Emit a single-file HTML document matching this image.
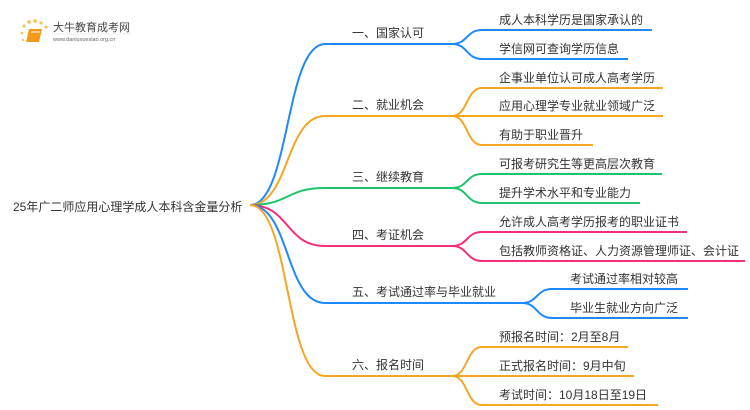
<!DOCTYPE html>
<html><head><meta charset="utf-8"><style>
html,body{margin:0;padding:0;background:#fff;}
svg{display:block;}
text{font-family:"Liberation Sans","Noto Sans CJK SC",sans-serif;fill:#333;}
</style></head><body>
<svg width="750" height="410" viewBox="0 0 750 410" xmlns="http://www.w3.org/2000/svg">
<g>
<circle cx="24" cy="26" r="1.5" fill="#f7c04a"/><circle cx="29" cy="22" r="1.8" fill="#f7c04a"/><circle cx="35" cy="21" r="1.8" fill="#f7c04a"/><circle cx="41" cy="23" r="1.6" fill="#f7c04a"/><circle cx="46" cy="27" r="1.5" fill="#f7c04a"/><circle cx="22" cy="33" r="1.3" fill="#f7c04a"/><circle cx="23" cy="40" r="1.1" fill="#f7c04a"/>
<path d="M29 29 L42 29 L39 42 L26 42 Z" fill="#f29a1c"/>
<path d="M31 32 L40 32" stroke="#fff" stroke-width="1"/>
<text x="53" y="31" font-size="11" style="fill:#444">大牛教育成考网</text>
<line x1="53" y1="34" x2="132" y2="34" stroke="#ddd" stroke-width="0.6"/>
<text x="53" y="41" font-size="5.5" style="fill:#666">www.daniuxuexiao.org.cn</text>
</g>
<g fill="none" stroke-width="2">
<path d="M250 205 C290 205 285 44 325 44 L455 44" stroke="#1e88ff"/>
<path d="M250 205 C290 205 285 116 325 116 L455 116" stroke="#f5a623"/>
<path d="M250 205 C290 205 285 188 325 188 L455 188" stroke="#1ec46d"/>
<path d="M250 205 C290 205 285 246 325 246 L455 246" stroke="#f52d7a"/>
<path d="M250 205 C290 205 285 303 325 303 L525 303" stroke="#1e88ff"/>
<path d="M250 205 C290 205 285 376 325 376 L455 376" stroke="#f5a623"/>
<g stroke="#1e88ff"><path d="M452 44 C468 44 466 30 482 30 L652 30"/><path d="M452 44 C468 44 466 59 482 59 L628 59"/></g>
<g stroke="#f5a623"><path d="M452 116 C468 116 466 88 482 88 L663 88"/><path d="M452 116 L663 116"/><path d="M452 116 C468 116 466 145 482 145 L593 145"/></g>
<g stroke="#1ec46d"><path d="M452 188 C468 188 466 174 482 174 L662 174"/><path d="M452 188 C468 188 466 203 482 203 L640 203"/></g>
<g stroke="#f52d7a"><path d="M452 246 C468 246 466 232 482 232 L687 232"/><path d="M452 246 C468 246 466 261 482 261 L745 261"/></g>
<g stroke="#1e88ff"><path d="M522 303 C538 303 536 289 552 289 L688 289"/><path d="M522 303 C538 303 536 318 552 318 L688 318"/></g>
<g stroke="#f5a623"><path d="M452 376 C468 376 466 347 482 347 L628 347"/><path d="M452 376 L634 376"/><path d="M452 376 C468 376 466 405 482 405 L658 405"/></g>
</g>
<text x="13" y="211" font-size="12">25年广二师应用心理学成人本科含金量分析</text>
<g font-size="12">
<text x="352" y="37">一、国家认可</text>
<text x="352" y="109">二、就业机会</text>
<text x="352" y="181">三、继续教育</text>
<text x="352" y="239">四、考证机会</text>
<text x="352" y="296">五、考试通过率与毕业就业</text>
<text x="352" y="369">六、报名时间</text>
</g>
<g font-size="12">
<text x="499" y="24">成人本科学历是国家承认的</text>
<text x="499" y="53">学信网可查询学历信息</text>
<text x="499" y="82">企事业单位认可成人高考学历</text>
<text x="499" y="110">应用心理学专业就业领域广泛</text>
<text x="499" y="139">有助于职业晋升</text>
<text x="499" y="168">可报考研究生等更高层次教育</text>
<text x="499" y="197">提升学术水平和专业能力</text>
<text x="499" y="226">允许成人高考学历报考的职业证书</text>
<text x="499" y="255">包括教师资格证、人力资源管理师证、会计证</text>
<text x="570" y="283">考试通过率相对较高</text>
<text x="570" y="312">毕业生就业方向广泛</text>
<text x="499" y="341">预报名时间：2月至8月</text>
<text x="499" y="370">正式报名时间：9月中旬</text>
<text x="499" y="399">考试时间：10月18日至19日</text>
</g>
</svg>
</body></html>
